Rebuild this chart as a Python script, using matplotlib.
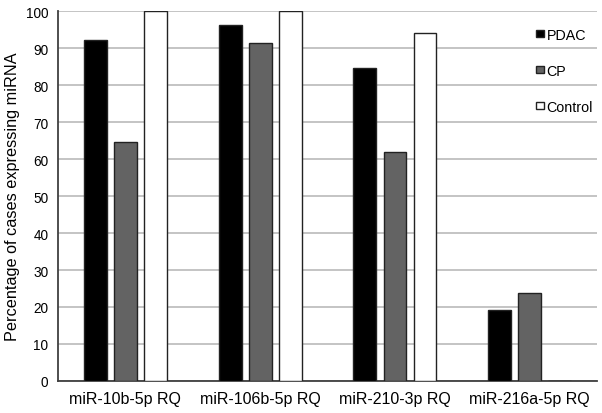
import numpy as np
import matplotlib.pyplot as plt

plt.rcParams['font.family'] = ['Liberation Sans', 'DejaVu Sans']

# Data
categories = ['miR-10b-5p RQ', 'miR-106b-5p RQ', 'miR-210-3p RQ', 'miR-216a-5p RQ']
pdac = [92.2, 96.2, 84.5, 19.2]
cp = [64.6, 91.3, 61.9, 23.7]
control = [100, 100, 94.0, 0]
series_names = ['PDAC', 'CP', 'Control']
yticks = list(range(0, 101, 10))

fig = plt.figure(figsize=(6.02, 4.14), dpi=100)
ax = fig.add_axes([0.0963, 0.0773, 0.8957, 0.8937])

x = np.arange(len(categories))
width = 0.17
offset = 0.223

ax.bar(x - offset, pdac, width, color='black', edgecolor='#222222', linewidth=1, label=series_names[0], zorder=3)
ax.bar(x, cp, width, color='#636363', edgecolor='#222222', linewidth=1, label=series_names[1], zorder=3)
ax.bar(x + offset, control, width, color='white', edgecolor='#222222', linewidth=1, label=series_names[2], zorder=3)

ax.set_xlim(-0.5, len(categories) - 0.5)
ax.set_ylim(0, 100)
ax.set_yticks(yticks)
ax.set_xticks(x)
ax.set_xticklabels(categories, fontsize=11.5)
ax.tick_params(axis='y', labelsize=9.8, length=0, pad=7)
ax.tick_params(axis='x', length=0, pad=7)
ax.set_ylabel('Percentage of cases expressing miRNA', fontsize=11.7, labelpad=4)

ax.grid(axis='y', color='#bfbfbf', linewidth=1.3, zorder=0)
ax.set_axisbelow(True)
for side in ['top', 'right']:
    ax.spines[side].set_visible(False)
ax.spines['left'].set_color('#404040')
ax.spines['bottom'].set_color('#404040')
ax.spines['left'].set_linewidth(1.3)
ax.spines['bottom'].set_linewidth(1.3)

ax.legend(loc='upper left', bbox_to_anchor=(0.862, 0.99), frameon=False, fontsize=10.3,
          handlelength=0.55, handleheight=0.4, handletextpad=0.2, labelspacing=1.55)

fig.savefig('out.png', dpi=100)
